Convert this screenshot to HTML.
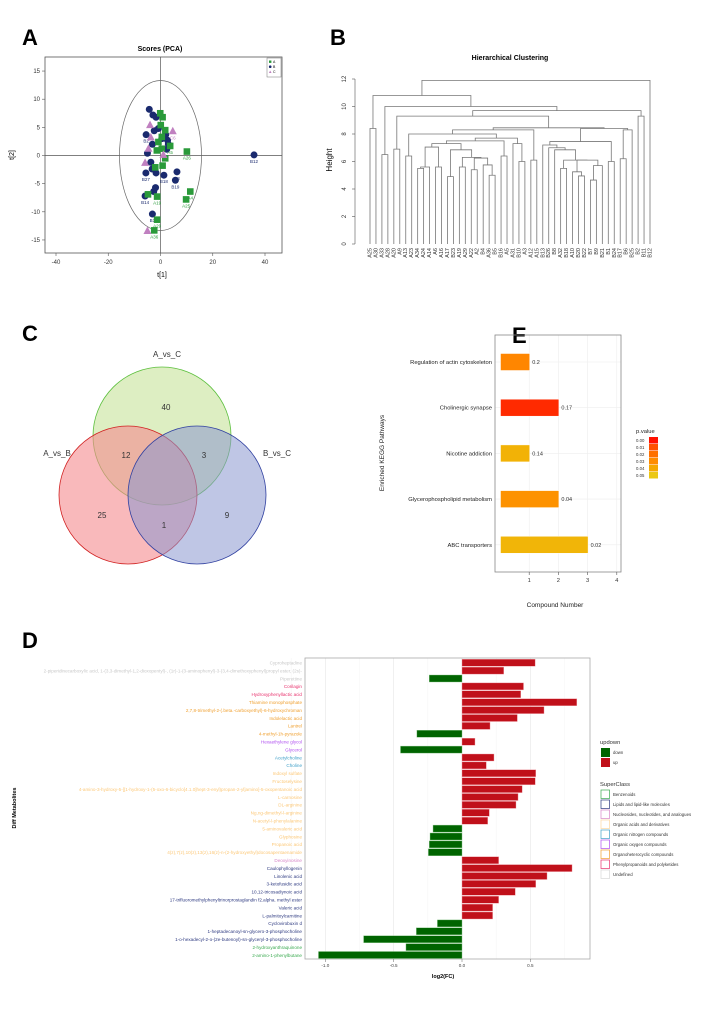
<!DOCTYPE html>
<html><head><meta charset="utf-8">
<style>
html,body{margin:0;padding:0;background:#fff;}
svg{display:block;font-family:"Liberation Sans",Arial,sans-serif;}
</style></head>
<body>
<svg id="fig" width="719" height="1022" viewBox="0 0 719 1022" xmlns="http://www.w3.org/2000/svg">
  <text x="22" y="45" font-size="22" font-weight="bold">A</text>
  <text x="330" y="45" font-size="22" font-weight="bold">B</text>
  <text x="22" y="341" font-size="22" font-weight="bold">C</text>
  <text x="512" y="343" font-size="22" font-weight="bold">E</text>
  <text x="22" y="648" font-size="22" font-weight="bold">D</text>

  <g id="pca"></g>
  <g id="dend"></g>
  <g id="venn">
    <circle cx="162" cy="436" r="69" fill="#c6e39a" fill-opacity="0.6" stroke="#5bbf3c" stroke-width="0.8"/>
    <circle cx="128" cy="495" r="69" fill="#f58a8e" fill-opacity="0.6" stroke="#d02020" stroke-width="0.8"/>
    <circle cx="197" cy="495" r="69" fill="#8a98d0" fill-opacity="0.55" stroke="#3040a0" stroke-width="0.8"/>
    <text x="167" y="357" font-size="8" text-anchor="middle" fill="#333">A_vs_C</text>
    <text x="57" y="456" font-size="8" text-anchor="middle" fill="#333">A_vs_B</text>
    <text x="277" y="456" font-size="8" text-anchor="middle" fill="#333">B_vs_C</text>
    <text x="166" y="410" font-size="8" text-anchor="middle" fill="#333">40</text>
    <text x="126" y="458" font-size="8" text-anchor="middle" fill="#333">12</text>
    <text x="204" y="458" font-size="8" text-anchor="middle" fill="#333">3</text>
    <text x="102" y="518" font-size="8" text-anchor="middle" fill="#333">25</text>
    <text x="164" y="528" font-size="8" text-anchor="middle" fill="#333">1</text>
    <text x="227" y="518" font-size="8" text-anchor="middle" fill="#333">9</text>
  </g>
  <g id="kegg"></g>
  <g id="diff"></g>
</svg>
<script>
// ---------- PCA data ----------
const pcaX = [-4.3,-2.9,-1.7,-0.8,-2.4,-5.5,2,2.7,3,2.4,-3.1,-5,-3.7,-3.2,-1.7,-5.6,1.3,6.3,5.7,-1.9,-2.6,-5.9,-3.1,35.8,0.5,
  -0.1,0.8,0.1,1.8,0.5,-0.8,3.7,0.5,-1.4,10.1,1.8,0.8,-2,11.4,9.8,-4.8,-1.3,-1.3,-2.4,
  -4,4.7,-3.7,-4.6,1.1,-5.9,-5];
const pcaY = [8.2,7.2,6.8,4.8,4.4,3.7,3.7,2.7,2,1.1,2,0.4,-1.2,-2.4,-3.1,-3.1,-3.5,-2.9,-4.4,-5.7,-6.4,-7.2,-10.4,0.1,3,
  7.5,6.8,5.4,4.5,3.3,2.4,1.7,1.2,0.9,0.7,-0.5,-1.8,-2.1,-6.4,-7.8,-6.9,-7.3,-11.4,-13.3,
  5.4,4.3,3.2,1.2,0.1,-1.3,-13.4];
const pcaGroup = "BBBBBBBBBBBBBBBBBBBBBBBBBAAAAAAAAAAAAAAAAAAACCCCCCC";
const pcaLabels = ["","","","","","B2","","","","","","","","","","B27","B18","B3","B19","","","B14","B3","B12","",
  "","","","","","","A5","","","A26","","","","A4","A25","","A19","A29","A36",
  "","C6","","","","",""];
const pcaXTicks = [-40,-20,0,20,40];
const pcaYTicks = [-15,-10,-5,0,5,10,15];

// ---------- Dendrogram data ----------
const dendTree = [11.9,
  [10.8, [8.4,"A25","A30"],
    [10.0, [6.5,"A33","A28"],
      [9.7,
        [9.3, [6.9,"A20","A9"],
          [8.45,
            [8.3,
              [8.0, [6.4,"A13","A23"],
                [7.7,
                  [7.5,
                    [7.3, [7.05, [5.6,[5.5,"A34","A24"],"A14"], [5.6,"A6","A16"]],
                      [6.85, [4.9,"A17","B23"],
                        [6.3, [5.6,"A19","A29"], [6.25,[5.4,"A22","A2"],[5.75,"B4",[5.0,"A36","B5"]]]]]],
                    [6.4,"B16","A5"]],
                  [7.3,"A31",[6.0,"B10","A3"]]]],
              [6.1,"A12","A15"]],
            [8.4,
              [7.45,
                [7.2,"B13",[7.0,"B26",[6.85,"B8",[6.1,[5.5,"A32","B18"],[6.1,[5.25,"A10",[4.95,"B20","B22"]],[5.7,[4.65,"B7","B9"],"B21"]]]]]],
                [6.0,"B1","B24"]],
              [8.3,[6.2,"B17","B6"],"B25"]]]],
        [9.3,"B2","B11"]]]],
  "B12"];
const dendTicks = [0,2,4,6,8,10,12];

// ---------- KEGG data ----------
const keggPathways = ["Regulation of actin cytoskeleton","Cholinergic synapse","Nicotine addiction","Glycerophospholipid metabolism","ABC transporters"];
const keggCounts = [1,2,1,2,3];
const keggPvalues = [0.028,0.004,0.043,0.032,0.044];
const keggLabels = ["0.2","0.17","0.14","0.04","0.02"];
const keggXTicks = [1,2,3,4];
const keggLegendTicks = ["0.00","0.01","0.02","0.03","0.04","0.05"];

// ---------- Diff metabolites data ----------
const diffNames = ["Cyproheptadine",
 "2-piperidinecarboxylic acid, 1-(3,3-dimethyl-1,2-dioxopentyl)-, (1r)-1-(3-aminophenyl)-3-(3,4-dimethoxyphenyl)propyl ester, (2s)-",
 "Piperettine","Corilagin","Hydroxyphenyllactic acid","Thiamine monophosphate",
 "2,7,8-trimethyl-2-(.beta.-carboxyethyl)-6-hydroxychroman","Indolelactic acid","Lantrel","4-methyl-1h-pyrazole",
 "Hexaethylene glycol","Glycerol","Acetylcholine","Choline","Indoxyl sulfate","Fructoselysine",
 "4-amino-3-hydroxy-5-[[1-hydroxy-1-(5-oxo-6-bicyclo[4.1.0]hept-3-enyl)propan-2-yl]amino]-5-oxopentanoic acid",
 "L-carnosine","DL-arginine","Ng,ng-dimethyl-l-arginine","N-acetyl-l-phenylalanine","5-aminovaleric acid","Glyphosine","Propanoic acid",
 "4(z),7(z),10(z),13(z),16(z)-n-(2-hydroxyethyl)docosapentaenamide","Deoxyinosine","Caulophyllogenin","Linolenic acid","3-ketofusidic acid",
 "10,12-tricosadiynoic acid","17-trifluoromethylphenyltrinorprostaglandin f2.alpha. methyl ester","Valeric acid","L-palmitoylcarnitine",
 "Cyclovirobuxin d","1-heptadecanoyl-sn-glycero-3-phosphocholine","1-o-hexadecyl-2-o-(2e-butenoyl)-sn-glyceryl-3-phosphocholine",
 "2-hydroxyanthraquinone","2-amino-1-phenylbutane"];
const diffFC = [0.535,0.305,-0.24,0.45,0.43,0.84,0.60,0.405,0.205,-0.33,0.095,-0.45,0.234,0.178,0.54,0.536,0.44,0.41,0.395,0.20,0.188,
 -0.212,-0.234,-0.24,-0.246,0.268,0.805,0.622,0.54,0.39,0.268,0.224,0.224,-0.18,-0.334,-0.72,-0.41,-1.05];
const diffClass = [8,8,8,7,7,6,6,6,6,6,5,5,4,4,3,3,3,3,3,3,3,3,3,3,3,2,1,1,1,1,1,1,1,1,1,1,0,0];
const superClasses = ["Benzenoids","Lipids and lipid-like molecules","Nucleosides, nucleotides, and analogues","Organic acids and derivatives",
 "Organic nitrogen compounds","Organic oxygen compounds","Organoheterocyclic compounds","Phenylpropanoids and polyketides","Undefined"];
const diffXTicks = [-1.0,-0.5,0.0,0.5];

const NS = "http://www.w3.org/2000/svg";
function mk(parent, tag, attrs, text){
  const e = document.createElementNS(NS, tag);
  for (const k in attrs) e.setAttribute(k, attrs[k]);
  if (text !== undefined) e.textContent = text;
  parent.appendChild(e);
  return e;
}

// ================= PCA =================
(function(){
  const g = document.getElementById('pca');
  const sx = v => 160.5 + v*2.6125;
  const sy = v => 155.5 - v*5.63;
  const t = mk(g,'text',{x:160,y:51,'font-size':7,'font-weight':'bold','text-anchor':'middle'},'Scores (PCA)');
  
  
  const box = mk(g,'rect',{x:45,y:57,width:237,height:196,fill:'none',stroke:'#555','stroke-width':0.8});
  
  
  mk(g,'line',{x1:45,x2:282,y1:sy(0),y2:sy(0),stroke:'#555','stroke-width':0.7});
  mk(g,'line',{x1:sx(0),x2:sx(0),y1:57,y2:253,stroke:'#555','stroke-width':0.7});
  const el = mk(g,'ellipse',{cx:sx(0),cy:sy(0),rx:41,ry:75,fill:'none',stroke:'#666','stroke-width':0.7});
  
  
  pcaXTicks.forEach(v=>{
    mk(g,'line',{x1:sx(v),x2:sx(v),y1:253,y2:256,stroke:'#555','stroke-width':0.6});
    const l = mk(g,'text',{x:sx(v),y:264,'font-size':6,'text-anchor':'middle',fill:'#333'},String(v));
    
    
  });
  pcaYTicks.forEach(v=>{
    mk(g,'line',{x1:42,x2:45,y1:sy(v),y2:sy(v),stroke:'#555','stroke-width':0.6});
    const l = mk(g,'text',{x:40,y:sy(v)+2,'font-size':6,'text-anchor':'end',fill:'#333'},String(v));
    
    
  });
  const xt = mk(g,'text',{x:162,y:277,'font-size':7,'text-anchor':'middle'},'t[1]');
  
  
  const yt = mk(g,'text',{x:14,y:155,'font-size':7,'text-anchor':'middle',transform:'rotate(-90 14 155)'},'t[2]');
  
  
  const col = {A:'#2a9a3a',B:'#1a2a6e',C:'#c080c0'};
  pcaX.forEach((v,i)=>{
    const grp = pcaGroup[i], x = sx(v), y = sy(pcaY[i]);
    let p;
    if (grp==='A') p = mk(g,'rect',{x:x-3.3,y:y-3.3,width:6.6,height:6.6,fill:col.A});
    else if (grp==='B') p = mk(g,'circle',{cx:x,cy:y,r:3.5,fill:col.B});
    else p = mk(g,'polygon',{points:`${x},${y-4.5} ${x-4},${y+3} ${x+4},${y+3}`,fill:col.C});
    
    
    if (pcaLabels[i]) {
      const l = mk(g,'text',{x:x,y:y+8,'font-size':4.5,'text-anchor':'middle',fill:col[grp]},pcaLabels[i]);
      
      
    }
  });
  const lg = mk(g,'g',{});
  
  
  mk(lg,'rect',{x:267,y:58,width:14,height:19,fill:'#fff',stroke:'#777','stroke-width':0.5});
  mk(lg,'rect',{x:269,y:60.5,width:2.4,height:2.4,fill:col.A});
  mk(lg,'circle',{cx:270.2,cy:66.7,r:1.3,fill:col.B});
  mk(lg,'polygon',{points:'270.2,70.5 268.9,73 271.5,73',fill:col.C});
  mk(lg,'text',{x:273,y:63,'font-size':3.5},'A');
  mk(lg,'text',{x:273,y:68,'font-size':3.5},'B');
  mk(lg,'text',{x:273,y:73,'font-size':3.5},'C');
})();

// ================= Dendrogram =================
(function(){
  const g = document.getElementById('dend');
  const sy = h => 244 - h*13.75;
  const leaves = [];
  (function collect(n){ if (typeof n==='string') leaves.push(n); else { collect(n[1]); collect(n[2]); } })(dendTree);
  const x0 = 370, x1 = 650, step = (x1-x0)/(leaves.length-1);
  let idx = 0;
  function lay(n){
    if (typeof n==='string'){
      const x = x0 + step*(idx++);
      const l = mk(g,'text',{x:x+1.5,y:248,'font-size':5.5,'text-anchor':'end',fill:'#333',transform:`rotate(-90 ${x+1.5} 248)`},n);
      
      
      return {x:x,h:0};
    }
    const a = lay(n[1]), b = lay(n[2]), y = sy(n[0]);
    const p = mk(g,'path',{d:`M${a.x},${sy(a.h)}V${y}H${b.x}V${sy(b.h)}`,fill:'none',stroke:'#777','stroke-width':0.8});
    
    
    return {x:(a.x+b.x)/2,h:n[0]};
  }
  lay(dendTree);
  const t = mk(g,'text',{x:510,y:60,'font-size':7,'font-weight':'bold','text-anchor':'middle'},'Hierarchical Clustering');
  
  
  mk(g,'line',{x1:355,x2:355,y1:sy(0),y2:sy(12),stroke:'#555','stroke-width':0.6});
  dendTicks.forEach(v=>{
    mk(g,'line',{x1:352,x2:355,y1:sy(v),y2:sy(v),stroke:'#555','stroke-width':0.6});
    const l = mk(g,'text',{x:346,y:sy(v),'font-size':6,'text-anchor':'middle',fill:'#333',transform:`rotate(-90 346 ${sy(v)})`},String(v));
    
    
  });
  const yt = mk(g,'text',{x:332,y:160,'font-size':8,'text-anchor':'middle',transform:'rotate(-90 332 160)'},'Height');
  
  
})();

// ================= KEGG =================
(function(){
  const g = document.getElementById('kegg');
  const sx = v => 500 + v*29.2;
  const rowY = i => 362 + i*45.7;
  function pcol(p){
    const stops = [[0,[255,16,0]],[0.01,[255,80,0]],[0.02,[255,112,0]],[0.03,[255,140,0]],[0.04,[245,168,0]],[0.05,[235,200,20]]];
    for (let i=0;i<stops.length-1;i++){
      if (p<=stops[i+1][0]){ const t=(p-stops[i][0])/(stops[i+1][0]-stops[i][0]);
        const c=stops[i][1].map((v,k)=>Math.round(v+(stops[i+1][1][k]-v)*t)); return `rgb(${c})`; }
    }
    return 'rgb(235,200,20)';
  }
  [1,2,3,4].forEach(v=>mk(g,'line',{x1:sx(v),x2:sx(v),y1:335,y2:572,stroke:'#eee','stroke-width':0.6}));
  keggPathways.forEach((n,i)=>mk(g,'line',{x1:495,x2:621,y1:rowY(i),y2:rowY(i),stroke:'#eee','stroke-width':0.6}));
  const box = mk(g,'rect',{x:495,y:335,width:126,height:237,fill:'none',stroke:'#888','stroke-width':0.8});
  
  
  keggPathways.forEach((n,i)=>{
    const y = rowY(i);
    const b = mk(g,'rect',{x:sx(0)+0.5,y:y-8.5,width:sx(keggCounts[i])-sx(0),height:17,fill:pcol(keggPvalues[i]),stroke:'#fff','stroke-width':0.5});
    
    
    const v = mk(g,'text',{x:sx(keggCounts[i])+3,y:y+2,'font-size':5.5,fill:'#333'},keggLabels[i]);
    
    
    const l = mk(g,'text',{x:492,y:y+2,'font-size':5.8,'text-anchor':'end',fill:'#222'},n);
    
    
  });
  keggXTicks.forEach(v=>{
    mk(g,'line',{x1:sx(v),x2:sx(v),y1:572,y2:575,stroke:'#555','stroke-width':0.6});
    const l = mk(g,'text',{x:sx(v),y:582,'font-size':5.8,'text-anchor':'middle',fill:'#333'},String(v));
    
    
  });
  const xt = mk(g,'text',{x:555,y:607,'font-size':6.5,'text-anchor':'middle',fill:'#222'},'Compound Number');
  
  
  const yt = mk(g,'text',{x:384,y:453,'font-size':6.5,'text-anchor':'middle',fill:'#222',transform:'rotate(-90 384 453)'},'Enriched KEGG Pathways');
  
  
  const lt = mk(g,'text',{x:636,y:433,'font-size':5.8,fill:'#222'},'p.value');
  
  
  keggLegendTicks.forEach((s,i)=>{
    const y = 437 + i*7;
    const sw = mk(g,'rect',{x:649,y:y,width:9,height:6.5,fill:pcol(parseFloat(s))});
    
    
    mk(g,'text',{x:636,y:y+5,'font-size':4.3,fill:'#333'},s);
  });
})();

// ================= Diff metabolites =================
(function(){
  const g = document.getElementById('diff');
  const sx = v => 462 + v*136.7;
  const rowY = i => 662.7 + i*7.9;
  const labelCol = ['#3aaa50','#2e3a80','#d888c8','#fcc878','#40a0c8','#b050f0','#f0a030','#e8336e','#c8c8c8'];
  const boxCol = ['#3aaa50','#2e3a80','#d888c8','#fcd8a0','#40a0c8','#b050f0','#f0a030','#e8336e','#d8d8d8'];
  [-1.25,-0.75,-0.25,0.25,0.75].forEach(v=>mk(g,'line',{x1:sx(v),x2:sx(v),y1:658,y2:959,stroke:'#f4f4f4','stroke-width':0.5}));
  diffXTicks.forEach(v=>mk(g,'line',{x1:sx(v),x2:sx(v),y1:658,y2:959,stroke:'#e6e6e6','stroke-width':0.6}));
  const box = mk(g,'rect',{x:305,y:658,width:285,height:301,fill:'none',stroke:'#aaa','stroke-width':0.8});
  
  
  diffNames.forEach((n,i)=>{
    const y = rowY(i), v = diffFC[i];
    const x = Math.min(sx(0),sx(v)), w = Math.abs(sx(v)-sx(0));
    const b = mk(g,'rect',{x:x,y:y-3.5,width:w,height:7,fill:v<0?'#006400':'#c0101a',stroke:v<0?'#8fc88f':'#f0a0a8','stroke-width':0.4});
    
    
    const l = mk(g,'text',{x:302,y:y+1.8,'font-size':4.6,'text-anchor':'end',fill:labelCol[diffClass[i]]},n);
    
    
  });
  diffXTicks.forEach(v=>{
    mk(g,'line',{x1:sx(v),x2:sx(v),y1:959,y2:962,stroke:'#666','stroke-width':0.5});
    const l = mk(g,'text',{x:sx(v),y:967,'font-size':4.6,'text-anchor':'middle',fill:'#444'},v.toFixed(1));
    
    
  });
  const xt = mk(g,'text',{x:443,y:978,'font-size':5.5,'font-weight':'bold','text-anchor':'middle'},'log2(FC)');
  
  
  const yt = mk(g,'text',{x:16,y:808,'font-size':5.5,'font-weight':'bold','text-anchor':'middle',transform:'rotate(-90 16 808)'},'Diff Metabolites');
  
  
  const t1 = mk(g,'text',{x:600,y:744,'font-size':5.8,fill:'#333'},'updown');
  
  
  [['down','#006400'],['up','#c0101a']].forEach((d,i)=>{
    const y = 748 + i*10;
    const s = mk(g,'rect',{x:601,y:y,width:9,height:9,fill:d[1]});
    
    
    mk(g,'text',{x:613,y:y+6,'font-size':4.3,fill:'#333'},d[0]);
  });
  const t2 = mk(g,'text',{x:600,y:786,'font-size':5.8,fill:'#333'},'SuperClass');
  
  
  superClasses.forEach((s,i)=>{
    const y = 790 + i*10;
    const r = mk(g,'rect',{x:601,y:y,width:8.5,height:8.5,fill:'#fff',stroke:boxCol[i],'stroke-width':0.7});
    
    
    const l = mk(g,'text',{x:613,y:y+6,'font-size':4.3,fill:'#333'},s);
    
    
  });
})();
</script>
</body></html>
